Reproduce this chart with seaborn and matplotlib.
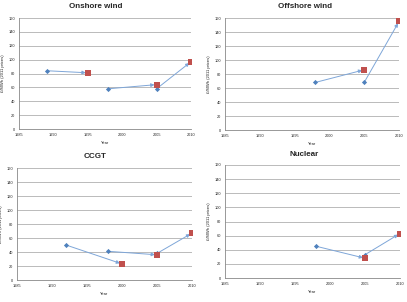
import matplotlib
matplotlib.use("Agg")
import matplotlib.pyplot as plt
import seaborn as sns
import pandas as pd

titles = ["Onshore wind", "Offshore wind", "CCGT", "Nuclear"]

onshore_start_year = [1989, 1998, 2005]
onshore_start_val = [84, 58, 58]
onshore_end_year = [1995, 2005, 2010]
onshore_end_val = [81, 64, 97]

offshore_start_year = [1998, 2005]
offshore_start_val = [68, 68]
offshore_end_year = [2005, 2010]
offshore_end_val = [86, 155]

ccgt_start_year = [1992, 1998, 2005]
ccgt_start_val = [50, 41, 38]
ccgt_end_year = [2000, 2005, 2010]
ccgt_end_val = [23, 36, 67]

nuclear_start_year = [1998, 2005]
nuclear_start_val = [45, 33]
nuclear_end_year = [2005, 2010]
nuclear_end_val = [28, 63]

x_ticks = [1985, 1990, 1995, 2000, 2005, 2010]
y_ticks = [0, 20, 40, 60, 80, 100, 120, 140, 160]
x_label = "Year"
y_label = "£/MWh (2011 prices)"

series = [
    (onshore_start_year, onshore_start_val, onshore_end_year, onshore_end_val),
    (offshore_start_year, offshore_start_val, offshore_end_year, offshore_end_val),
    (ccgt_start_year, ccgt_start_val, ccgt_end_year, ccgt_end_val),
    (nuclear_start_year, nuclear_start_val, nuclear_end_year, nuclear_end_val),
]

sns.set_style("white")
plt.rcParams['font.family'] = ['Liberation Sans', 'DejaVu Sans']

fig = plt.figure(figsize=(4.07, 3.02), dpi=100)
W, H = 407, 302
boxes = [
    (19, 18, 191, 129),
    (225, 18, 399, 130),
    (17, 168, 192, 280),
    (225, 165, 400, 278),
]
title_pos = [(96, 7), (305, 7), (95, 157), (304, 155)]

blue = "#4f81bd"
red = "#c0504d"
line_c = "#7ea6d8"

for (x0, y0, x1, y1), title, (tx, ty), (sy, sv, ey, ev) in zip(boxes, titles, title_pos, series):
    ax = fig.add_axes([x0 / W, 1 - y1 / H, (x1 - x0) / W, (y1 - y0) / H])
    for a, b, c, d in zip(sy, sv, ey, ev):
        ax.annotate("", xy=(c, d), xytext=(a, b),
                    arrowprops=dict(arrowstyle="-|>", color=line_c, lw=0.7,
                                    mutation_scale=5, shrinkA=0, shrinkB=1.5),
                    zorder=2)
    df_s = pd.DataFrame({"year": sy, "val": sv})
    df_e = pd.DataFrame({"year": ey, "val": ev})
    sns.scatterplot(data=df_s, x="year", y="val", ax=ax, marker="D", s=7,
                    color=blue, edgecolor=blue, linewidth=0, zorder=3)
    sns.scatterplot(data=df_e, x="year", y="val", ax=ax, marker="s", s=16,
                    color=red, edgecolor=red, linewidth=0, zorder=3)
    ax.set_xlim(1985, 2010)
    ax.set_ylim(0, 160)
    ax.set_xticks(x_ticks)
    ax.set_yticks(y_ticks)
    ax.tick_params(labelsize=2.8, length=1.5, width=0.5, color="#888888", pad=1.5)
    ax.yaxis.grid(True, color="#b0b0b0", lw=0.6)
    ax.xaxis.grid(False)
    ax.set_axisbelow(True)
    for s in ["top", "right"]:
        ax.spines[s].set_visible(False)
    for s in ["left", "bottom"]:
        ax.spines[s].set_color("#888888")
        ax.spines[s].set_linewidth(0.6)
    ax.set_xlabel(x_label, fontsize=3, labelpad=3)
    ax.set_ylabel(y_label, fontsize=3, labelpad=2)
    fig.text(tx / W, 1 - ty / H, title, fontsize=5.8, fontweight="bold",
             ha="center", va="center")

fig.savefig("out.png", dpi=100)
